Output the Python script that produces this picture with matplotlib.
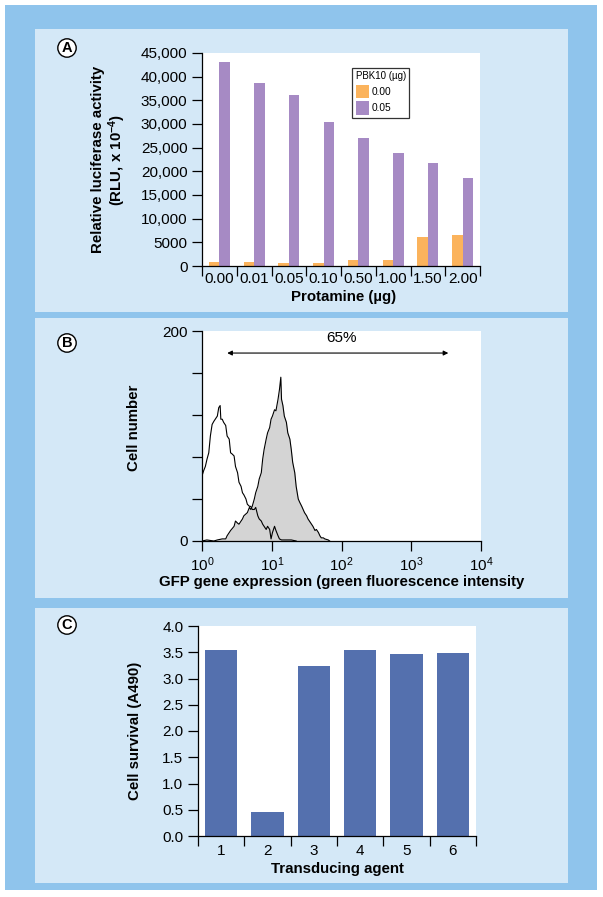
import numpy as np
import matplotlib
matplotlib.use('Agg')
import matplotlib.pyplot as plt
from matplotlib.patches import Rectangle

plt.rcParams['font.family'] = ['Liberation Sans', 'DejaVu Sans']
plt.rcParams['mathtext.default'] = 'regular'

# ---- data ----
# panel A
protamine = ['0.00', '0.01', '0.05', '0.10', '0.50', '1.00', '1.50', '2.00']
pbk_000 = [850, 900, 650, 550, 1250, 1350, 6200, 6600]
pbk_005 = [43100, 38700, 36100, 30500, 27000, 23800, 21700, 18500]

# panel B (log10 intensity, cell number)
ctrl_logx = [0.00, 0.024, 0.048, 0.072, 0.097, 0.12, 0.145, 0.17, 0.19, 0.22, 0.24, 0.26,
             0.27, 0.29, 0.31, 0.34, 0.36, 0.39, 0.41, 0.43, 0.46, 0.48, 0.51, 0.53, 0.56,
             0.58, 0.60, 0.63, 0.65, 0.68, 0.70, 0.72, 0.75, 0.77, 0.80, 0.82, 0.85, 0.87,
             0.89, 0.92, 0.94, 0.97, 0.99, 1.01, 1.04, 1.06, 1.09, 1.11, 1.14, 1.18, 1.28, 1.35]
ctrl_cnt = [62, 67, 71, 78, 84, 100, 111, 114, 116, 119, 127, 129,
            116, 116, 113, 110, 100, 97, 84, 83, 81, 71, 65, 56, 52,
            46, 44, 40, 35, 33, 33, 30, 30, 32, 24, 21, 19, 16,
            14, 11, 14, 11, 2, 8, 14, 10, 5, 2, 1, 1, 1, 0]

gfp_logx = [0.00, 0.07, 0.17, 0.22, 0.29, 0.34, 0.36, 0.41, 0.46, 0.48, 0.51, 0.53, 0.56,
            0.58, 0.60, 0.65, 0.68, 0.70, 0.72, 0.75, 0.77, 0.80, 0.82, 0.85, 0.87, 0.89,
            0.92, 0.94, 0.97, 0.99, 1.01, 1.04, 1.06, 1.09, 1.11, 1.13, 1.14, 1.16, 1.18,
            1.21, 1.23, 1.26, 1.28, 1.30, 1.33, 1.35, 1.38, 1.40, 1.43, 1.45, 1.47, 1.50,
            1.52, 1.54, 1.57, 1.59, 1.62, 1.64, 1.67, 1.69, 1.71, 1.74, 1.76, 1.81, 1.83]
gfp_cnt = [0, 1, 0, 1, 2, 2, 5, 10, 14, 19, 17, 16, 19,
           21, 24, 27, 32, 30, 33, 40, 46, 52, 59, 65, 78, 87,
           97, 103, 108, 116, 119, 125, 124, 135, 144, 156, 135, 129, 119,
           113, 103, 97, 87, 75, 65, 52, 40, 37, 33, 30, 27, 24,
           21, 19, 16, 14, 10, 11, 8, 5, 3, 3, 2, 1, 0]

# panel C
agents = ['1', '2', '3', '4', '5', '6']
survival = [3.54, 0.46, 3.23, 3.54, 3.46, 3.49]

# ---- colours ----
outer_blue = '#8fc4ec'
panel_blue = '#d4e8f7'
orange = '#fbb35c'
purple = '#a68ac4'
bar_blue = '#5470ae'

W, H = 603, 897
fig = plt.figure(figsize=(W / 100, H / 100), dpi=100, facecolor='white')


def rect(x0, y0, x1, y1, color):
    # pixel box (top-left origin) -> figure fraction
    fig.add_artist(Rectangle((x0 / W, 1 - y1 / H), (x1 - x0) / W, (y1 - y0) / H,
                             transform=fig.transFigure, fc=color, ec='none', zorder=-10))


def ax_at(x0, y0, x1, y1):
    return fig.add_axes([x0 / W, 1 - y1 / H, (x1 - x0) / W, (y1 - y0) / H])


def letter(s, x, y):
    fig.text(x / W, 1 - y / H, s, ha='center', va='center', fontsize=10.5, fontweight='bold',
             bbox=dict(boxstyle='circle,pad=0.15', fc='white', ec='black', lw=1.0))


def style(ax):
    ax.set_facecolor('white')
    for s in ['top', 'right']:
        ax.spines[s].set_visible(False)
    for s in ['left', 'bottom']:
        ax.spines[s].set_linewidth(0.9)
    ax.tick_params(labelsize=11, width=0.9, length=7)


rect(5, 5, 597, 890, outer_blue)
rect(35, 29, 568, 312, panel_blue)
rect(35, 318, 568, 598, panel_blue)
rect(35, 608, 568, 883, panel_blue)

lab_font = dict(fontsize=10.8, fontweight='bold')

# ---- panel A ----
axA = ax_at(202, 53, 480, 266)
style(axA)
xa = np.arange(len(protamine))
axA.bar(xa - 0.15, pbk_000, width=0.3, color=orange, label='0.00')
axA.bar(xa + 0.15, pbk_005, width=0.3, color=purple, label='0.05')
axA.set_xlim(-0.5, len(protamine) - 0.5)
axA.set_ylim(0, 45000)
axA.set_yticks(np.arange(0, 45001, 5000))
axA.set_yticklabels(['0', '5000'] + ['{:,}'.format(v) for v in range(10000, 45001, 5000)])
axA.set_xticks(np.arange(-0.5, len(protamine), 1))
axA.set_xticklabels([])
axA.set_xticks(xa, minor=True)
axA.set_xticklabels(protamine, minor=True)
axA.tick_params(axis='x', which='minor', length=0, labelsize=11, pad=4)
axA.set_ylabel('Relative luciferase activity\n(RLU, x 10$^{-4}$)', **lab_font, linespacing=1.1)
axA.yaxis.set_label_coords(-0.267, 0.5)
axA.set_xlabel('Protamine (µg)', **lab_font)
axA.xaxis.set_label_coords(0.51, -0.115)
leg = axA.legend(title='PBK10 (µg)', loc='upper left', bbox_to_anchor=(0.54, 0.93),
                 fontsize=7.3, title_fontsize=7, frameon=True, fancybox=False,
                 handlelength=1.3, handleheight=1.7, handletextpad=0.3, borderpad=0.35,
                 labelspacing=0.3, borderaxespad=0)
leg.get_frame().set_edgecolor('black')
leg.get_frame().set_linewidth(0.9)
leg._legend_box.align = 'left'
letter('A', 67, 48)

# ---- panel B ----
axB = ax_at(202, 331, 481, 541)
style(axB)
gx = 10 ** np.array(gfp_logx)
cx = 10 ** np.array(ctrl_logx)
axB.fill_between(gx, gfp_cnt, color='#d4d4d4', lw=0)
axB.plot(gx, gfp_cnt, color='black', lw=0.8)
axB.plot(cx, ctrl_cnt, color='black', lw=0.8)
axB.set_xscale('log')
axB.set_xlim(1, 1e4)
axB.set_ylim(0, 200)
axB.set_xticks([1, 10, 100, 1000, 10000])
axB.set_xticklabels(['$10^{0}$', '$10^{1}$', '$10^{2}$', '$10^{3}$', '$10^{4}$'])
axB.xaxis.set_minor_locator(matplotlib.ticker.NullLocator())
axB.set_yticks([0, 40, 80, 120, 160, 200])
axB.set_yticklabels(['0', '', '', '', '', '200'])
axB.annotate('', xy=(2.3, 179), xytext=(3400, 179),
             arrowprops=dict(arrowstyle='<|-|>', lw=0.8, color='black', mutation_scale=7,
                             shrinkA=0, shrinkB=0))
axB.text(100, 193, '65%', ha='center', va='center', fontsize=11)
axB.set_ylabel('Cell number', **lab_font)
axB.yaxis.set_label_coords(-0.22, 0.54)
axB.set_xlabel('GFP gene expression (green fluorescence intensity', **lab_font)
axB.xaxis.set_label_coords(0.5, -0.162)
letter('B', 67, 343)

# ---- panel C ----
axC = ax_at(198, 626, 476, 836)
style(axC)
xc = np.arange(len(agents))
axC.bar(xc, survival, width=0.7, color=bar_blue)
axC.set_xlim(-0.5, len(agents) - 0.5)
axC.set_ylim(0, 4)
axC.set_yticks(np.arange(0, 4.01, 0.5))
axC.set_yticklabels(['{:.1f}'.format(v) for v in np.arange(0, 4.01, 0.5)])
axC.set_xticks(np.arange(-0.5, len(agents), 1))
axC.set_xticklabels([])
axC.set_xticks(xc, minor=True)
axC.set_xticklabels(agents, minor=True)
axC.tick_params(axis='x', which='minor', length=0, labelsize=11, pad=6)
axC.set_ylabel('Cell survival (A490)', **lab_font)
axC.yaxis.set_label_coords(-0.2, 0.5)
axC.set_xlabel('Transducing agent', **lab_font)
axC.xaxis.set_label_coords(0.5, -0.125)
letter('C', 67, 625)

fig.savefig('out.png', dpi=100, facecolor='white')
